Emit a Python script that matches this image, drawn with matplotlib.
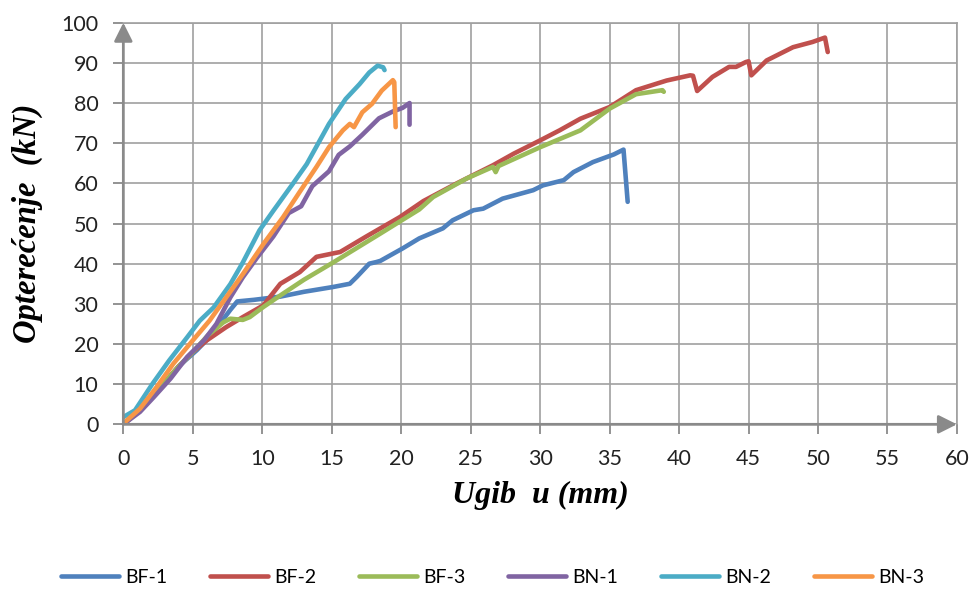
import matplotlib
matplotlib.use("Agg")
import matplotlib.pyplot as plt

# ------------------------------------------------------------
# Data (deflection in mm, load in kN)
# ------------------------------------------------------------
bf1_x = [0, 1.0, 2.0, 3.0, 4.0, 5.3, 6.0, 6.7, 7.7, 8.2, 9.4, 11.3, 13.0, 15.1, 16.3,
         16.8, 17.7, 18.2, 18.5, 20.1, 21.3, 23.0, 23.7, 25.2, 25.9, 27.3, 29.5, 30.2,
         31.7, 32.4, 33.8, 35.3, 36.0, 36.3]
bf1_y = [0, 3.0, 6.5, 10.5, 14.5, 18.5, 21.0, 23.9, 28.5, 30.6, 31.0, 31.8, 33.0, 34.2, 35.0,
         36.7, 40.0, 40.4, 40.7, 43.8, 46.3, 48.8, 50.8, 53.3, 53.7, 56.2, 58.3, 59.5,
         60.8, 62.8, 65.3, 67.2, 68.4, 55.4]

bf2_x = [0, 1.0, 2.0, 3.0, 4.0, 5.0, 6.0, 7.4, 8.6, 10.07, 11.3, 12.7, 13.9, 15.3, 15.6,
         17.5, 19.9, 21.6, 24.0, 26.6, 28.1, 30.0, 31.4, 32.9, 35.0, 36.9, 39.1, 40.8,
         41.0, 41.3, 42.4, 43.6, 44.1, 44.8, 45.0, 45.2, 46.3, 48.2, 49.6, 50.5, 50.7]
bf2_y = [0, 3.0, 6.5, 10.5, 14.5, 18.0, 20.9, 24.2, 26.7, 29.6, 35.0, 37.9, 41.7, 42.7, 42.9,
         46.8, 51.6, 55.6, 60.0, 64.5, 67.4, 70.7, 73.2, 76.1, 79.0, 83.2, 85.6, 86.9,
         86.8, 83.0, 86.5, 89.0, 89.0, 90.2, 90.4, 86.9, 90.6, 93.9, 95.2, 96.3, 92.7]

bf3_x = [0, 1.0, 2.0, 3.0, 4.0, 5.0, 6.1, 7.2, 7.7, 8.6, 9.1, 10.07, 11.3, 13.0, 15.1,
         18.5, 21.3, 22.3, 24.7, 26.6, 26.8, 27.0, 30.0, 32.9, 35.0, 36.9, 38.8, 38.9]
bf3_y = [0, 3.0, 6.5, 10.5, 14.5, 18.0, 22.2, 25.4, 26.3, 26.0, 26.7, 29.2, 32.1, 36.0, 40.3,
         47.5, 53.5, 56.6, 61.2, 64.1, 62.8, 64.3, 69.0, 73.2, 78.6, 82.2, 83.2, 82.8]

bn1_x = [0, 1.2, 2.2, 3.4, 4.6, 5.8, 6.7, 7.7, 8.6, 9.6, 10.8, 11.9, 12.8, 13.6, 14.8,
         15.5, 16.3, 17.2, 18.4, 19.4, 20.1, 20.6, 20.6]
bn1_y = [0, 3.1, 6.8, 11.4, 16.8, 20.9, 25.0, 31.6, 36.6, 41.4, 46.8, 52.6, 54.3, 59.3, 63.0,
         67.1, 69.2, 72.1, 76.2, 77.9, 78.8, 80.0, 74.6]

bn2_x = [0, 0.84, 2.1, 3.3, 4.6, 5.5, 6.5, 7.7, 8.6, 9.8, 10.8, 12.2, 13.2, 14.0, 14.8,
         16.0, 17.0, 17.7, 18.3, 18.7, 18.8]
bn2_y = [1.8, 3.5, 10.1, 15.9, 21.7, 25.8, 29.1, 34.9, 40.3, 48.3, 53.2, 59.9, 64.8, 69.8, 74.8,
         81.0, 84.7, 87.6, 89.3, 88.9, 88.2]

bn3_x = [0, 1.2, 2.4, 3.6, 5.0, 6.2, 7.4, 8.6, 10.1, 11.5, 12.7, 13.9, 14.8, 15.8, 16.3,
         16.6, 17.2, 17.9, 18.6, 19.4, 19.5, 19.6]
bn3_y = [0.2, 3.9, 9.3, 15.1, 20.9, 25.8, 31.6, 37.4, 45.0, 51.6, 57.9, 64.1, 69.0, 73.2, 74.8,
         74.0, 77.7, 79.8, 83.1, 85.7, 85.2, 74.0]

labels = ["BF-1", "BF-2", "BF-3", "BN-1", "BN-2", "BN-3"]
colors = ["#4F81BD", "#C0504D", "#9BBB59", "#8064A2", "#4BACC6", "#F79646"]
series = [(bf1_x, bf1_y), (bf2_x, bf2_y), (bf3_x, bf3_y),
          (bn1_x, bn1_y), (bn2_x, bn2_y), (bn3_x, bn3_y)]

x_ticks = list(range(0, 61, 5))
y_ticks = list(range(0, 101, 10))

# ------------------------------------------------------------
# Figure
# ------------------------------------------------------------
grid_col = "#a0a0a0"
axis_col = "#8a8a8a"
tick_font = "Lato"

fig = plt.figure(figsize=(9.75, 5.9), dpi=100)
ax = fig.add_axes([0.1265, 0.2808, 0.855, 0.6807])

for (xs, ys), lab, col in zip(series, labels, colors):
    ax.plot(xs, ys, color=col, lw=3.3, label=lab,
            solid_joinstyle="round", solid_capstyle="round", zorder=3)

ax.set_xlim(0, 60)
ax.set_ylim(0, 100)
ax.set_xticks(x_ticks)
ax.set_yticks(y_ticks)
ax.grid(True, color=grid_col, lw=1.2, zorder=0)
ax.set_axisbelow(True)

for side in ["left", "bottom"]:
    ax.spines[side].set_visible(False)
for side in ["top", "right"]:
    ax.spines[side].set_color(grid_col)
    ax.spines[side].set_linewidth(1.2)

ax.tick_params(direction="out", length=7, width=1.3, color=axis_col,
               labelsize=15.5, labelcolor="#222222")
ax.tick_params(axis="x", pad=11)
ax.tick_params(axis="y", pad=11)
for t in ax.get_xticklabels() + ax.get_yticklabels():
    t.set_fontfamily(tick_font)

# axis lines with arrow heads
arrow = dict(arrowstyle="-|>,head_length=0.8,head_width=0.4", color=axis_col,
             lw=2.0, mutation_scale=14, shrinkA=0, shrinkB=0)
ax.annotate("", xy=(0, 1), xytext=(0, 0), xycoords="axes fraction",
            arrowprops=arrow, zorder=5)
ax.annotate("", xy=(1, 0), xytext=(0, 0), xycoords="axes fraction",
            arrowprops=arrow, zorder=5)

ax.set_xlabel("Ugib  u (mm)", family="Liberation Serif", style="italic",
              weight="bold", fontsize=23, labelpad=8)
ax.set_ylabel("Opterećenje  (kN)", family="Liberation Serif", style="italic",
              weight="bold", fontsize=23.5, labelpad=13)

fig.legend(loc="center", bbox_to_anchor=(0.505, 0.022), ncol=6, frameon=False,
           handlelength=3.0, handletextpad=0.3, columnspacing=2.2,
           prop={"family": tick_font, "size": 14})

fig.savefig("out.png", dpi=100)
